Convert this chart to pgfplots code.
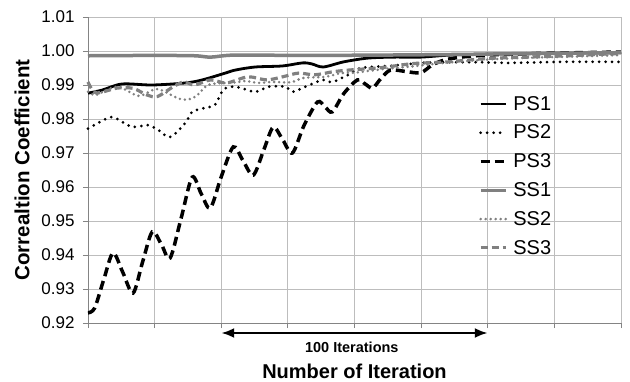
\documentclass[border=0pt]{standalone}
\usepackage{pgfplots}
\pgfplotsset{compat=1.18}
\usepackage{fontspec}
\setmainfont{Liberation Sans}
\usetikzlibrary{arrows.meta}
\definecolor{gridc}{HTML}{BDBDBD}
\definecolor{sgray}{HTML}{808080}
\begin{document}
\begin{tikzpicture}
\path[use as bounding box] (0,0) rectangle (630pt,381pt);
\begin{axis}[
  at={(88pt,58pt)}, anchor=south west,
  scale only axis, width=533pt, height=306pt,
  xmin=0, xmax=200, ymin=0.92, ymax=1.01,
  xtick={0,25,...,200}, xticklabels={},
  ytick={0.92,0.93,...,1.011},
  grid=major, major grid style={gridc, line width=0.8pt},
  axis lines*=left,
  axis line style={gridc!70!black, line width=0.8pt},
  tick align=outside, major tick length=5pt,
  tick style={gridc!70!black, line width=0.8pt},
  /pgf/number format/assume math mode=true,
  yticklabel style={font=\fontsize{17}{20}\selectfont, xshift=-5pt, /pgf/number format/.cd, fixed, fixed zerofill, precision=2},
  ylabel={\bfseries Correaltion Coefficient},
  xlabel={\bfseries Number of Iteration},
  every axis y label/.style={at={(rel axis cs:0,0.5)}, anchor=center, xshift=-66pt, rotate=90, font=\fontsize{20.5}{24}\selectfont},
  every axis x label/.style={at={(rel axis cs:0.5,0)}, anchor=center, yshift=-48pt, font=\fontsize{20}{24}\selectfont},
  clip=false,
  legend cell align=left,
  legend style={at={(rel axis cs:0.733,0.745)}, anchor=north west, draw=none, fill=none,
    font=\fontsize{20}{23}\selectfont, row sep=11.3pt, inner sep=0pt,
    nodes={inner sep=1pt},
    /tikz/every odd column/.append style={column sep=5pt}},
  legend image code/.code={\draw[#1] (0cm,0cm) -- (25pt,0cm);},
]
% PS1
\addplot[black, line width=2.8pt, smooth] coordinates {
(0,0.9876) (5.3,0.9885) (12.8,0.9903) (24,0.9900) (36.5,0.9906) (42.9,0.9915)
(51.5,0.9935) (55.3,0.9944) (62.8,0.9953) (72.9,0.9956) (80.5,0.9965) (84,0.9962)
(88.3,0.9953) (95.9,0.9968) (104.9,0.9979) (114.7,0.9982) (124.8,0.9982)
(136,0.9988) (151,0.9991) (173.7,0.9993) (200,0.9995)};
\addlegendentry{PS1}
% PS2
\addplot[black, line width=3pt, line cap=round, dash pattern=on 0pt off 6.5pt, smooth] coordinates {
(0,0.9772) (7.5,0.9803) (10.2,0.9803) (16.5,0.9777) (22.6,0.9782) (26.3,0.9768)
(30.8,0.9747) (36.5,0.9788) (39.1,0.9821) (44,0.9833) (47.7,0.9842) (50.8,0.9886)
(55.3,0.9895) (62.8,0.9880) (67.7,0.9895) (74.1,0.9895) (76.7,0.9880) (81.6,0.9895)
(88,0.9915) (91.7,0.9909) (97.7,0.9930) (102.3,0.9950) (114.7,0.9957) (127.4,0.9966)
(146,0.9967) (158.6,0.9965) (177.4,0.9968) (200,0.9968)};
\addlegendentry{PS2}
% PS3
\addplot[black, line width=3.5pt, dash pattern=on 9pt off 5pt, smooth] coordinates {
(0,0.9230) (2.5,0.9244) (6,0.9330) (9.4,0.9406) (13,0.9350) (16.9,0.9288)
(20.5,0.9380) (24.1,0.9468) (27.5,0.9432) (30.8,0.9391) (35,0.9510) (39.1,0.9629)
(42.5,0.9580) (45.9,0.9538) (50,0.9630) (54.5,0.9718) (58,0.9680) (62,0.9635)
(66,0.9710) (69.5,0.9776) (73,0.9740) (76.7,0.9700) (81,0.9780) (86.1,0.9850)
(89,0.9835) (91.7,0.9821) (96,0.9875) (101.1,0.9915) (104,0.9903) (106.8,0.9891)
(110,0.9920) (113.5,0.9944) (119,0.9940) (124.8,0.9936) (129,0.9958) (133.5,0.9973)
(140,0.9982) (150,0.9988) (170,0.9993) (200,0.9997)};
\addlegendentry{PS3}
% SS1
\addplot[sgray, line width=3.5pt, smooth] coordinates {
(0,0.9986) (25,0.9987) (40,0.9986) (46,0.9982) (55,0.9988) (80,0.9987)
(110,0.9988) (140,0.9990) (170,0.9993) (200,0.9995)};
\addlegendentry{SS1}
% SS2
\addplot[sgray, line width=2.8pt, line cap=round, dash pattern=on 0pt off 5pt, smooth] coordinates {
(0,0.9880) (3,0.9871) (11,0.9895) (19,0.9868) (26,0.9888) (34,0.9860) (38,0.9858)
(41,0.9870) (45,0.9900) (51,0.9906) (56,0.9908) (59,0.9912) (64,0.9906) (69,0.9909)
(76,0.9908) (81,0.9921) (89,0.9924) (95,0.9935) (100,0.9936) (110,0.9946)
(122,0.9955) (135,0.9966) (150,0.9975) (165,0.9980) (180,0.9983) (200,0.9988)};
\addlegendentry{SS2}
% SS3
\addplot[sgray, line width=3.2pt, dash pattern=on 7pt off 4pt, smooth] coordinates {
(0,0.9909) (3,0.9877) (11,0.9891) (17,0.9890) (22,0.9871) (26,0.9866) (32,0.9895)
(36,0.9909) (40,0.9900) (46,0.9915) (52,0.9906) (60,0.9924) (67,0.9915) (73,0.9924)
(79,0.9935) (85,0.9930) (92,0.9939) (98,0.9944) (110,0.9951) (122,0.9963)
(135,0.9968) (150,0.9978) (165,0.9982) (180,0.9986) (200,0.9993)};
\addlegendentry{SS3}
\draw[{Latex[length=13pt,width=10pt]}-{Latex[length=13pt,width=10pt]}, line width=2.4pt]
  ([yshift=-10pt]axis cs:50,0.92) -- ([yshift=-10pt]axis cs:150,0.92);
\node[font=\bfseries\fontsize{14.5}{17}\selectfont, anchor=center] at ([yshift=-24pt]axis cs:99,0.92) {100 Iterations};
\end{axis}
\end{tikzpicture}
\end{document}
